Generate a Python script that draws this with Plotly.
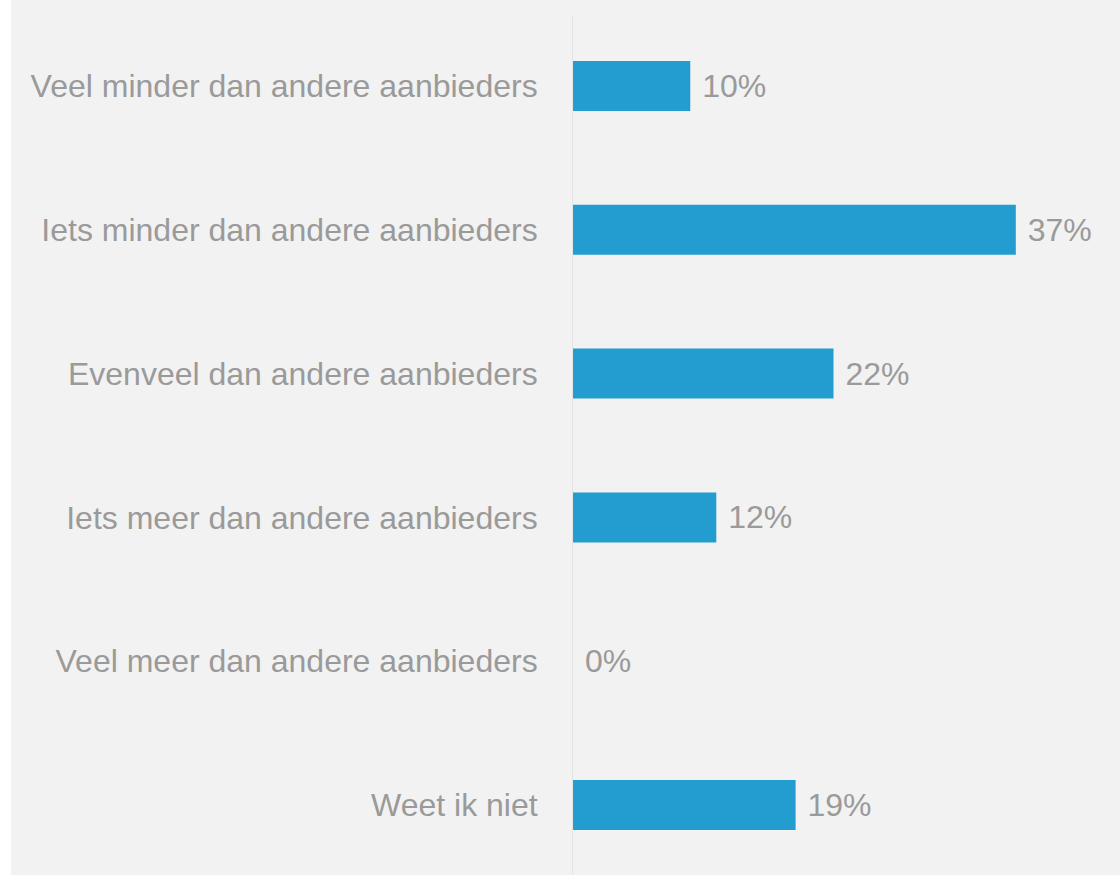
import plotly.graph_objects as go

# --- Data ---
categories = [
    "Veel minder dan andere aanbieders",
    "Iets minder dan andere aanbieders",
    "Evenveel dan andere aanbieders",
    "Iets meer dan andere aanbieders",
    "Veel meer dan andere aanbieders",
    "Weet ik niet",
]
shares = [9.9, 37.4, 22.0, 12.1, 0.0, 18.8]
labels = ["10%", "37%", "22%", "12%", "0%", "19%"]

BAR_COLOR = "#239dcf"
TEXT_COLOR = "#9a9a9a"
FONT = "Liberation Sans, Arial, sans-serif"

fig = go.Figure(
    go.Bar(
        x=shares,
        y=categories,
        orientation="h",
        marker=dict(color=BAR_COLOR, line=dict(width=0)),
        text=["\u00a0" + t for t in labels],
        textposition="outside",
        textfont=dict(size=32, color=TEXT_COLOR, family=FONT),
        cliponaxis=False,
        hoverinfo="skip",
    )
)

fig.update_layout(
    width=1120,
    height=875,
    margin=dict(l=11, r=0, t=0, b=0),
    paper_bgcolor="white",
    plot_bgcolor="#f2f2f2",
    bargap=0.652,
    showlegend=False,
    font=dict(family=FONT, size=32, color=TEXT_COLOR),
    shapes=[
        dict(type="rect", xref="paper", yref="paper", x0=0, x1=1, y0=0, y1=1,
             fillcolor="#f2f2f2", line=dict(width=0), layer="below"),
    ],
    xaxis=dict(
        domain=[0.5068, 1],
        range=[0, 46.2],
        showgrid=False,
        zeroline=False,
        showticklabels=False,
        showline=False,
    ),
    yaxis=dict(
        domain=[0, 859 / 875],
        range=[5.487, -0.487],
        showgrid=False,
        zeroline=False,
        showline=True,
        linecolor="#e3e3e3",
        linewidth=1,
        ticks="",
        ticklabelstandoff=28,
        tickfont=dict(size=32, color=TEXT_COLOR, family=FONT),
    ),
)

# drop the browser's default body margin so the chart sits at the page corner
fig.write_html(
    "out.html",
    config={"displayModeBar": False},
    post_script="document.body.style.margin='0';",
)
